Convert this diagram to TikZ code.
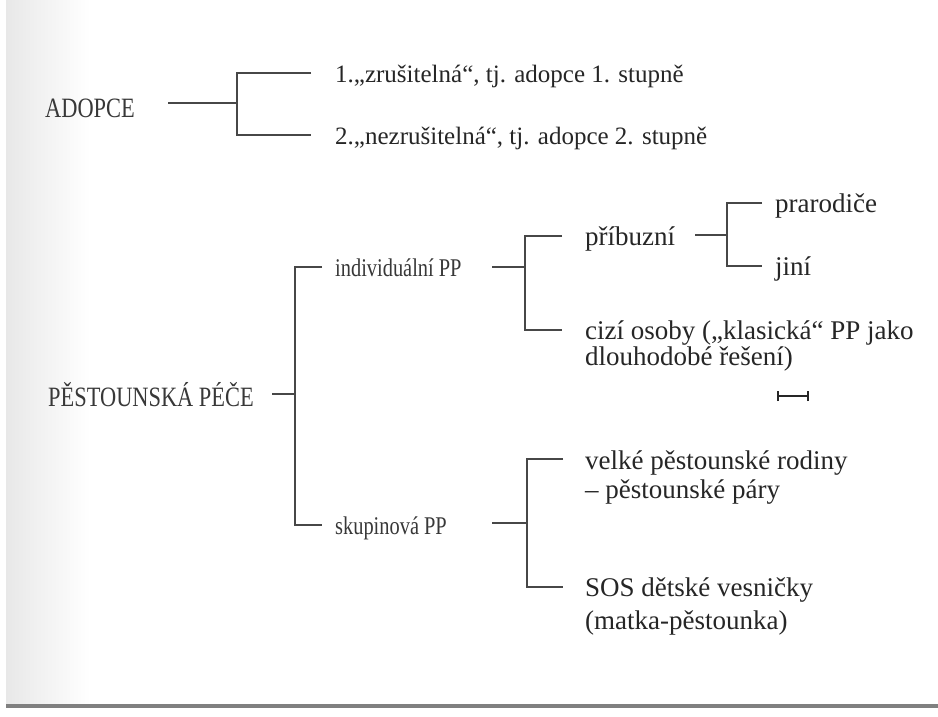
\documentclass[tikz,border=0pt]{standalone}
\usepackage{fontspec}
\setmainfont{Liberation Serif}
\newfontfamily\condfont[FakeStretch=0.8]{Liberation Serif}
\begin{document}
\begin{tikzpicture}[x=1pt,y=-1pt,
  conn/.style={draw=black!72,line width=1.6pt},
  lbl/.style={anchor=base west,inner sep=0pt,text=black!85,font=\fontsize{27}{29}\selectfont},
  toplbl/.style={anchor=base west,inner sep=0pt,text=black!85,font=\fontsize{25}{29}\selectfont},
  cond/.style={anchor=base west,inner sep=0pt,text=black!78,font=\condfont\fontsize{25.5}{30}\selectfont},
  condcap/.style={anchor=base west,inner sep=0pt,text=black!78,font=\condfont\fontsize{28}{30}\selectfont}]
\useasboundingbox (0,0) rectangle (938,716);
\fill[white] (0,0) rectangle (938,716);
\shade[left color=black!9,right color=white] (6,0) rectangle (90,704);
\fill[black!50] (6,704) rectangle (938,708);

% ADOPCE
\node[condcap] (adopce) at (45,117) {ADOPCE};
\node[toplbl] (z1) at (335,82) {1.„zrušitelná“, tj. adopce 1. stupně};
\node[toplbl] (z2) at (335,144) {2.„nezrušitelná“, tj. adopce 2. stupně};
\coordinate (a0) at (168,103);
\coordinate (aj) at (237,103);
\coordinate (a1) at (311,73);
\coordinate (a2) at (311,135);
\draw[conn] (a0) -- (aj);
\draw[conn] (a1) -| (aj) |- (a2);

% PĚSTOUNSKÁ PÉČE
\node[condcap] (pp) at (48,406) {PĚSTOUNSKÁ PÉČE};
\node[cond] (ind) at (335,276) {individuální PP};
\node[cond] (sk) at (335,534) {skupinová PP};
\coordinate (p0) at (272,394);
\coordinate (pj) at (295,394);
\coordinate (p1) at (322,267);
\coordinate (p2) at (322,525);
\draw[conn] (p0) -- (pj);
\draw[conn] (p1) -| (pj) |- (p2);

% individualni PP (multi-line nodes: base = last line)
\node[lbl] (pri) at (585,245) {příbuzní};
\node[lbl,align=left,font=\fontsize{27}{26}\selectfont] (ciz) at (585,365) {cizí osoby („klasická“ PP jako\\dlouhodobé řešení)};
\coordinate (i0) at (492,267);
\coordinate (ij) at (525,267);
\coordinate (i1) at (562,236);
\coordinate (i2) at (562,330);
\draw[conn] (i0) -- (ij);
\draw[conn] (i1) -| (ij) |- (i2);

% pribuzni
\node[lbl] (pra) at (775,212) {prarodiče};
\node[lbl] (jin) at (775,275) {jiní};
\coordinate (r0) at (695,235);
\coordinate (rj) at (727,235);
\coordinate (r1) at (762,203);
\coordinate (r2) at (762,266);
\draw[conn] (r0) -- (rj);
\draw[conn] (r1) -| (rj) |- (r2);

% small mark
\coordinate (m1) at (778,396);
\coordinate (m2) at (808,396);
\draw[black!85,line width=1.3pt] (m1) -- (m2);
\draw[black!85,line width=1.3pt] ([yshift=-5pt]m1) -- ([yshift=5pt]m1);
\draw[black!85,line width=1.3pt] ([yshift=-5pt]m2) -- ([yshift=5pt]m2);

% skupinova PP
\node[lbl,align=left,font=\fontsize{27}{29}\selectfont] (vel) at (585,498) {velké pěstounské rodiny\\– pěstounské páry};
\node[lbl,align=left,font=\fontsize{27}{33}\selectfont] (sos) at (585,629) {SOS dětské vesničky\\(matka-pěstounka)};
\coordinate (s0) at (492,523);
\coordinate (sj) at (527,523);
\coordinate (s1) at (563,459);
\coordinate (s2) at (563,587);
\draw[conn] (s0) -- (sj);
\draw[conn] (s1) -| (sj) |- (s2);
\end{tikzpicture}
\end{document}
